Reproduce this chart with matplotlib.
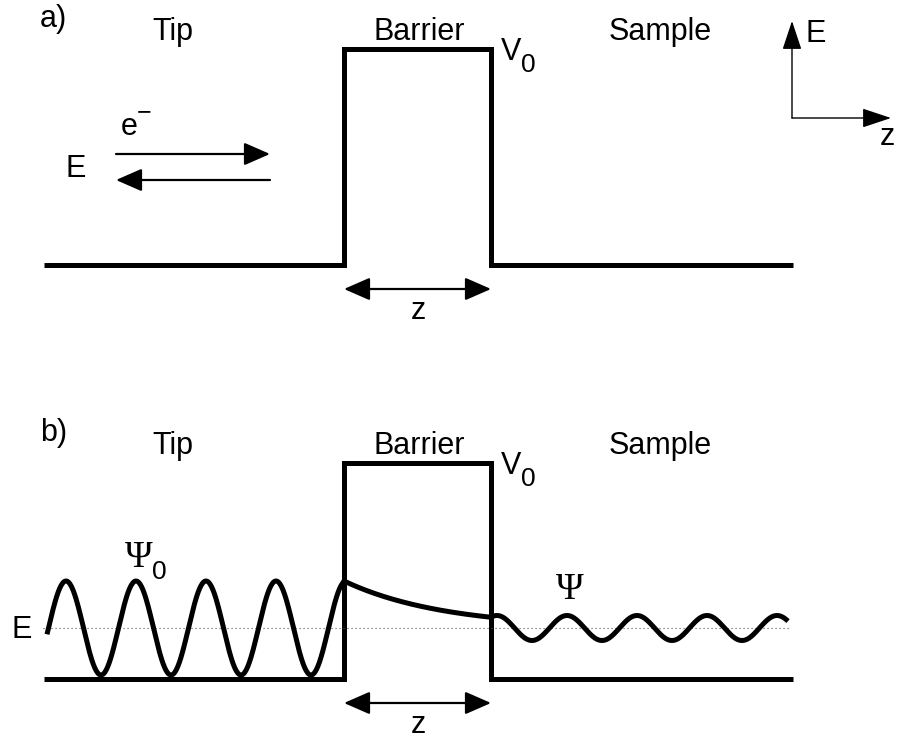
import numpy as np
import matplotlib.pyplot as plt

plt.rcParams['font.family'] = ['Liberation Sans', 'DejaVu Sans']

# potential profile (z position, height above the baseline)
barrier_z = [44, 344, 344, 491, 491, 793]
barrier_v = [0, 0, 216, 216, 0, 0]
region_labels = ['Tip', 'Barrier', 'Sample']
region_centers = [173, 419, 660]

# wavefunction parameters for panel b
energy_level = 51          # height of E above the baseline
tip_amp = 47               # incoming wave amplitude
sample_amp = 12.5          # transmitted wave amplitude
wavelength = 70
tip_peak = 66              # z of first crest in the tip
sample_peak = 497          # z of first crest in the sample
wall_left, wall_right = 344, 491

LW = 3.6
FS = 22
SERIF = ['Liberation Serif', 'DejaVu Serif']


def arrow(ax, x0, y0, x1, y1, style='-|>', lw=1.6, hl=0.8, hw=0.35, ms=20):
    ax.annotate('', xy=(x1, y1), xytext=(x0, y0),
                arrowprops=dict(arrowstyle=f'{style},head_length={hl},head_width={hw}',
                                lw=lw, color='black', shrinkA=0, shrinkB=0,
                                mutation_scale=ms))


def draw_panel(ax, base, tag):
    ax.plot(barrier_z, [base - v for v in barrier_v], color='black', lw=LW,
            solid_joinstyle='miter', solid_capstyle='butt')
    ax.text(40, base - 238, tag, fontsize=FS, va='baseline')
    for lab, xc in zip(region_labels, region_centers):
        ax.text(xc, base - 225, lab, fontsize=FS, ha='center', va='baseline')
    ax.text(501, base - 205, 'V', fontsize=FS, va='baseline')
    ax.text(521, base - 193, '0', fontsize=19, va='baseline')
    # barrier width
    arrow(ax, wall_left, base + 24, wall_right, base + 24, style='<|-|>')
    ax.text(418, base + 54, 'z', fontsize=FS, ha='center', va='baseline')


fig = plt.figure(figsize=(8.97, 7.4), dpi=100)
ax = fig.add_axes([0, 0, 1, 1])
ax.set_xlim(0, 897)
ax.set_ylim(740, 0)
ax.axis('off')

# ---- panel a ----
base_a = 265
draw_panel(ax, base_a, 'a)')
ax.text(121, 135, 'e', fontsize=FS, va='baseline')
ax.text(137, 112, '\u2212', fontsize=18, va='center')
arrow(ax, 116, 154, 270, 154)
arrow(ax, 270, 180, 116, 180)
ax.text(66, 177, 'E', fontsize=FS, va='baseline')

# energy / position axes
arrow(ax, 792, 118, 792, 21, lw=1.0, hl=0.9, hw=0.3)
arrow(ax, 792, 118, 891, 118, lw=1.0, hl=0.9, hw=0.3)
ax.text(806, 42, 'E', fontsize=FS, va='baseline')
ax.text(880, 145, 'z', fontsize=FS, va='baseline')

# ---- panel b ----
base_b = 679
draw_panel(ax, base_b, 'b)')
e_y = base_b - energy_level
ax.plot([43, 790], [e_y, e_y], color='#555555', lw=0.8, ls=(0, (1, 2.6)))
ax.text(12, base_b - 41, 'E', fontsize=FS, va='baseline')

z_tip = np.linspace(47, wall_left, 400)
psi_tip = energy_level + tip_amp * np.cos(2 * np.pi * (z_tip - tip_peak) / wavelength)
psi_edge = energy_level + sample_amp * np.cos(2 * np.pi * (wall_right - sample_peak) / wavelength)
kappa = np.log(tip_amp / (psi_edge - energy_level)) / (wall_right - wall_left)
z_bar = np.linspace(wall_left, wall_right, 200)
psi_bar = energy_level + tip_amp * np.exp(-kappa * (z_bar - wall_left))
z_smp = np.linspace(wall_right, 788, 400)
psi_smp = energy_level + sample_amp * np.cos(2 * np.pi * (z_smp - sample_peak) / wavelength)

z_all = np.concatenate([z_tip, z_bar, z_smp])
psi_all = np.concatenate([psi_tip, psi_bar, psi_smp])
ax.plot(z_all, base_b - psi_all, color='black', lw=LW, solid_capstyle='butt')

ax.text(125, 567, '\u03a8', fontsize=27, family=SERIF, va='baseline')
ax.text(152, 579, '0', fontsize=19, va='baseline')
ax.text(556, 599, '\u03a8', fontsize=27, family=SERIF, va='baseline')

fig.savefig('out.png', dpi=100)
